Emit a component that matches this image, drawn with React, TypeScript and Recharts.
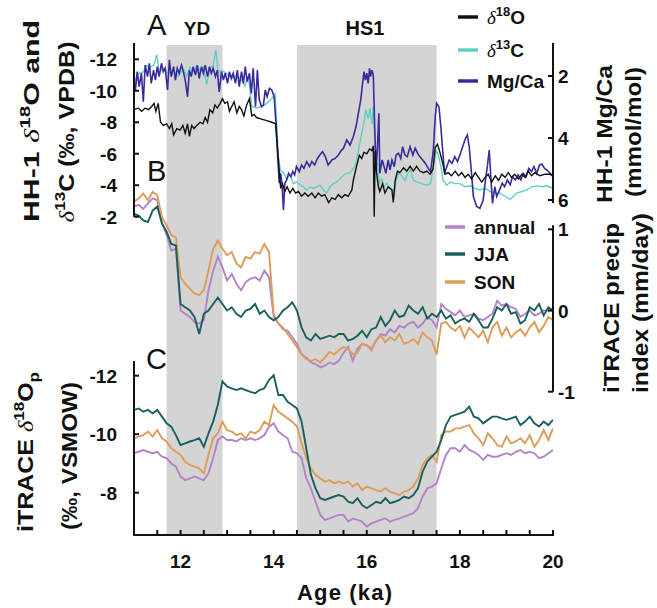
import React from "react";
import {
  ComposedChart,
  Line,
  XAxis,
  YAxis,
  ReferenceArea,
} from "recharts";

// ---------- HH-1 speleothem record (age ka, value) ----------
const D18O: [number, number][] = [
  [11.0, -8.8], [11.09, -8.9], [11.165, -8.7], [11.24, -8.9], [11.31, -8.8], [11.38, -9.0], [11.43, -9.2], [11.47, -8.7],
  [11.52, -9.2], [11.57, -8.0], [11.63, -7.8], [11.7, -7.9], [11.76, -7.6], [11.81, -7.9], [11.85, -7.2], [11.92, -7.6],
  [11.99, -7.5], [12.05, -7.8], [12.1, -7.3], [12.15, -7.9], [12.19, -7.1], [12.24, -7.8], [12.29, -7.6], [12.35, -7.8],
  [12.42, -8.0], [12.48, -7.9], [12.53, -8.3], [12.58, -8.0], [12.63, -8.8], [12.69, -8.6], [12.74, -9.1], [12.79, -8.9],
  [12.85, -9.2], [12.9, -9.5], [12.95, -9.2], [13.01, -9.3], [13.05, -8.7], [13.1, -9.0], [13.15, -9.3], [13.21, -8.6],
  [13.26, -9.0], [13.31, -8.8], [13.36, -8.4], [13.42, -9.1], [13.48, -9.5], [13.53, -8.4], [13.58, -8.5], [13.63, -8.3],
  [13.74, -8.2], [13.85, -8.1], [13.96, -8.0], [14.04, -7.9], [14.1, -5.7], [14.15, -3.8], [14.19, -4.1], [14.24, -3.6],
  [14.29, -3.9], [14.35, -3.5], [14.41, -3.8], [14.47, -3.5], [14.53, -3.6], [14.6, -3.3], [14.67, -3.5], [14.74, -3.3],
  [14.82, -3.5], [14.89, -3.2], [14.96, -3.5], [15.03, -3.3], [15.1, -3.4], [15.18, -2.9], [15.25, -3.2], [15.32, -3.1],
  [15.39, -3.4], [15.46, -3.2], [15.53, -3.4], [15.6, -3.3], [15.68, -3.7], [15.71, -4.3], [15.78, -5.2], [15.84, -5.9],
  [15.89, -5.7], [15.94, -6.1], [16.0, -6.0], [16.06, -6.3], [16.11, -6.2], [16.14, -6.5], [16.16, -2.0], [16.18, -6.2],
  [16.21, -4.8], [16.25, -3.9], [16.28, -3.6], [16.34, -4.1], [16.39, -3.5], [16.46, -3.9], [16.54, -3.7], [16.57, -2.9],
  [16.61, -4.3], [16.66, -4.9], [16.71, -4.8], [16.79, -5.1], [16.86, -4.9], [16.93, -5.2], [17.0, -4.9], [17.07, -5.2],
  [17.14, -4.9], [17.22, -4.8], [17.29, -4.9], [17.36, -4.7], [17.42, -5.0], [17.47, -6.4], [17.52, -6.6], [17.57, -6.1],
  [17.63, -5.4], [17.68, -4.7], [17.75, -4.8], [17.82, -4.6], [17.9, -4.9], [17.97, -4.6], [18.04, -4.8], [18.11, -4.5],
  [18.18, -4.7], [18.25, -4.4], [18.33, -4.8], [18.4, -4.5], [18.47, -4.2], [18.54, -4.5], [18.61, -4.7], [18.68, -4.2],
  [18.76, -4.6], [18.83, -4.3], [18.9, -4.7], [18.97, -4.5], [19.04, -4.8], [19.11, -4.5], [19.18, -4.7], [19.26, -4.4],
  [19.33, -4.7], [19.4, -4.5], [19.47, -4.9], [19.54, -4.6], [19.61, -4.8], [19.72, -4.6], [19.83, -4.7], [19.94, -4.7],
  [20.0, -4.6],
];

const D13C: [number, number][] = [
  [11.0, -10.5], [11.09, -11.1], [11.2, -11.2], [11.27, -11.6], [11.34, -11.5], [11.42, -11.6], [11.49, -12.3], [11.54, -11.2],
  [11.63, -11.4], [11.74, -11.1], [11.85, -11.3], [11.95, -10.9], [12.06, -11.4], [12.13, -10.9], [12.2, -11.5], [12.27, -11.2],
  [12.35, -11.6], [12.42, -11.3], [12.49, -11.5], [12.56, -10.4], [12.63, -11.4], [12.7, -11.6], [12.76, -12.6], [12.81, -11.1],
  [12.88, -11.3], [12.99, -11.1], [13.1, -10.8], [13.21, -11.0], [13.31, -10.7], [13.38, -10.3], [13.46, -10.9], [13.53, -9.0],
  [13.63, -8.9], [13.74, -9.0], [13.85, -9.2], [13.96, -9.5], [14.03, -9.8], [14.07, -7.7], [14.1, -5.8], [14.15, -4.9],
  [14.21, -4.8], [14.28, -4.4], [14.35, -4.7], [14.42, -4.1], [14.49, -4.2], [14.57, -4.0], [14.64, -3.9], [14.71, -3.7],
  [14.78, -3.9], [14.85, -3.8], [14.92, -3.9], [14.99, -4.0], [15.07, -3.7], [15.14, -3.5], [15.21, -3.9], [15.28, -4.1],
  [15.35, -4.2], [15.46, -4.5], [15.53, -4.7], [15.64, -4.8], [15.75, -5.2], [15.82, -6.2], [15.89, -7.3], [15.94, -8.0],
  [15.98, -8.8], [16.03, -8.2], [16.07, -8.9], [16.11, -7.9], [16.14, -9.0], [16.17, -7.0], [16.2, -4.8], [16.23, -5.4],
  [16.27, -4.1], [16.32, -4.4], [16.37, -3.9], [16.43, -4.1], [16.5, -3.8], [16.56, -3.7], [16.59, -3.3], [16.63, -4.3],
  [16.68, -4.8], [16.75, -4.6], [16.82, -4.3], [16.89, -4.8], [16.94, -5.0], [17.0, -4.3], [17.09, -4.2], [17.18, -4.1],
  [17.29, -4.0], [17.37, -4.1], [17.43, -5.2], [17.49, -6.2], [17.54, -5.9], [17.59, -5.2], [17.64, -4.3], [17.72, -4.0],
  [17.79, -4.2], [17.9, -4.1], [18.0, -4.1], [18.11, -3.9], [18.22, -3.96], [18.33, -3.8], [18.43, -3.7], [18.54, -3.8],
  [18.65, -3.6], [18.76, -3.5], [18.86, -3.5], [18.97, -3.3], [19.08, -3.1], [19.15, -3.3], [19.22, -3.5], [19.33, -3.6],
  [19.44, -3.7], [19.54, -3.9], [19.65, -3.96], [19.76, -3.9], [19.86, -3.96], [20.0, -3.8],
];

const MGCA: [number, number][] = [
  [11.0, 2.13], [11.03, 2.45], [11.07, 1.86], [11.11, 2.34], [11.16, 1.91], [11.2, 2.83], [11.24, 1.65], [11.29, 2.02],
  [11.33, 1.59], [11.37, 2.24], [11.42, 1.81], [11.46, 2.13], [11.5, 1.7], [11.54, 2.02], [11.59, 1.59], [11.63, 1.86],
  [11.67, 1.75], [11.72, 2.45], [11.76, 1.48], [11.8, 2.02], [11.85, 1.7], [11.89, 2.13], [11.93, 1.75], [11.97, 1.91],
  [12.02, 1.65], [12.06, 1.86], [12.1, 2.13], [12.15, 2.67], [12.19, 1.81], [12.23, 2.02], [12.27, 1.7], [12.32, 1.97],
  [12.36, 1.65], [12.4, 2.08], [12.45, 1.7], [12.49, 1.91], [12.53, 1.65], [12.58, 2.02], [12.62, 1.7], [12.66, 1.91],
  [12.7, 1.75], [12.75, 2.02], [12.79, 1.81], [12.83, 2.51], [12.88, 1.86], [12.92, 2.13], [12.96, 1.91], [13.01, 2.24],
  [13.05, 1.86], [13.09, 2.08], [13.13, 1.91], [13.18, 2.24], [13.22, 1.81], [13.26, 2.34], [13.31, 1.86], [13.35, 2.24],
  [13.39, 1.7], [13.43, 2.18], [13.48, 1.91], [13.52, 2.56], [13.56, 1.75], [13.61, 2.99], [13.65, 1.81], [13.69, 2.77],
  [13.74, 2.99], [13.78, 2.94], [13.82, 2.45], [13.86, 2.67], [13.91, 2.4], [13.96, 2.45], [14.01, 2.67], [14.05, 3.53],
  [14.09, 4.71], [14.12, 5.46], [14.15, 5.14], [14.18, 5.51], [14.21, 6.32], [14.24, 5.46], [14.28, 5.35], [14.32, 5.14],
  [14.37, 5.25], [14.41, 5.08], [14.45, 5.19], [14.49, 4.92], [14.55, 5.08], [14.6, 4.87], [14.65, 4.98], [14.71, 4.76],
  [14.77, 4.92], [14.82, 4.76], [14.88, 4.87], [14.94, 4.66], [14.99, 4.55], [15.05, 4.44], [15.11, 4.6], [15.17, 4.87],
  [15.25, 4.71], [15.32, 4.66], [15.39, 4.55], [15.46, 4.39], [15.5, 4.33], [15.57, 4.06], [15.64, 4.23], [15.71, 3.96],
  [15.77, 3.63], [15.82, 3.2], [15.87, 2.77], [15.91, 2.24], [15.94, 1.86], [15.97, 2.13], [16.0, 1.91], [16.03, 2.24],
  [16.06, 1.75], [16.08, 2.02], [16.11, 1.81], [16.14, 1.97], [16.17, 3.63], [16.2, 5.03], [16.23, 4.28], [16.26, 3.2],
  [16.28, 5.14], [16.33, 4.71], [16.37, 4.92], [16.41, 5.14], [16.46, 4.71], [16.5, 5.03], [16.54, 4.71], [16.59, 4.92],
  [16.63, 4.55], [16.68, 4.49], [16.73, 4.66], [16.77, 4.28], [16.82, 4.55], [16.87, 4.6], [16.93, 4.28], [16.99, 4.55],
  [17.04, 4.33], [17.09, 4.49], [17.14, 4.6], [17.2, 4.71], [17.26, 4.82], [17.32, 4.98], [17.37, 5.08], [17.43, 4.39],
  [17.47, 3.31], [17.5, 2.88], [17.55, 2.99], [17.59, 3.63], [17.63, 4.39], [17.67, 5.14], [17.72, 4.92], [17.77, 4.71],
  [17.83, 4.82], [17.89, 4.6], [17.95, 4.76], [18.0, 4.55], [18.06, 4.28], [18.12, 4.01], [18.16, 3.9], [18.2, 4.28],
  [18.25, 5.14], [18.29, 5.89], [18.36, 6.21], [18.43, 6.27], [18.5, 6.0], [18.55, 5.35], [18.59, 4.92], [18.63, 4.39],
  [18.66, 5.14], [18.7, 6.11], [18.75, 5.57], [18.79, 5.89], [18.85, 5.68], [18.91, 5.46], [18.96, 5.57], [19.02, 5.35],
  [19.08, 5.51], [19.13, 5.25], [19.19, 5.35], [19.25, 5.19], [19.31, 5.35], [19.36, 5.14], [19.42, 5.25], [19.48, 4.98],
  [19.54, 5.08], [19.59, 4.92], [19.65, 5.14], [19.71, 4.87], [19.76, 4.84], [19.82, 4.98], [19.88, 5.05], [19.94, 5.14],
  [20.0, 5.25],
];

// ---------- iTRACE model output, 0.1 ka steps ----------
const ITRACE_AGE = [
  11.0, 11.1, 11.2, 11.3, 11.4, 11.5, 11.6, 11.7, 11.8, 11.9,
  12.0, 12.1, 12.2, 12.3, 12.4, 12.5, 12.6, 12.7, 12.8, 12.9,
  13.0, 13.1, 13.2, 13.3, 13.4, 13.5, 13.6, 13.7, 13.8, 13.9,
  14.0, 14.1, 14.2, 14.3, 14.4, 14.5, 14.6, 14.7, 14.8, 14.9,
  15.0, 15.1, 15.2, 15.3, 15.4, 15.5, 15.6, 15.7, 15.8, 15.9,
  16.0, 16.1, 16.2, 16.3, 16.4, 16.5, 16.6, 16.7, 16.8, 16.9,
  17.0, 17.1, 17.2, 17.3, 17.4, 17.5, 17.6, 17.7, 17.8, 17.9,
  18.0, 18.1, 18.2, 18.3, 18.4, 18.5, 18.6, 18.7, 18.8, 18.9,
  19.0, 19.1, 19.2, 19.3, 19.4, 19.5, 19.6, 19.7, 19.8, 19.9,
  20.0,
];

// precip index (mm/day)
const PRECIP_ANNUAL = [
  1.28, 1.3, 1.25, 1.32, 1.38, 1.36, 1.09, 0.93, 0.74, 0.76,
  0.0, -0.04, -0.08, -0.14, -0.16, -0.12, 0.25, 0.49, 0.66, 0.53,
  0.37, 0.45, 0.33, 0.25, 0.35, 0.39, 0.41, 0.37, 0.49, 0.41,
  -0.08, -0.16, -0.23, -0.25, -0.33, -0.41, -0.54, -0.58, -0.64, -0.66,
  -0.7, -0.68, -0.64, -0.66, -0.62, -0.52, -0.45, -0.62, -0.47, -0.41,
  -0.43, -0.47, -0.37, -0.29, -0.31, -0.23, -0.27, -0.19, -0.21, -0.16,
  -0.14, -0.21, -0.16, -0.08, -0.12, -0.21, 0.08, 0.02, -0.02, -0.06,
  0.0, -0.08, -0.06, -0.04, -0.1, -0.12, -0.08, -0.04, 0.12, 0.06,
  0.08, 0.04, 0.02, -0.08, -0.04, 0.0, -0.06, -0.04, 0.0, 0.0,
  0.0,
];
const PRECIP_JJA = [
  1.19, 1.17, 1.11, 1.09, 1.23, 1.28, 1.07, 0.97, 0.82, 0.8,
  0.08, 0.04, 0.0, -0.08, -0.29, -0.04, 0.0, 0.08, 0.16, 0.08,
  0.0, 0.04, -0.04, -0.08, 0.0, 0.02, 0.08, -0.04, 0.0, -0.08,
  -0.12, -0.08, 0.0, 0.04, 0.1, 0.0, -0.21, -0.33, -0.37, -0.29,
  -0.35, -0.33, -0.31, -0.33, -0.29, -0.29, -0.37, -0.35, -0.31, -0.25,
  -0.33, -0.23, -0.21, -0.08, -0.19, -0.12, 0.0, -0.08, -0.06, 0.06,
  0.0, -0.04, 0.04, -0.1, -0.04, -0.08, 0.0, -0.1, -0.06, -0.16,
  -0.12, -0.1, -0.14, -0.04, -0.12, -0.21, -0.21, -0.1, 0.04, 0.0,
  0.08, -0.04, -0.02, -0.16, -0.12, 0.04, 0.0, 0.08, -0.06, 0.04,
  0.0,
];
const PRECIP_SON = [
  1.34, 1.38, 1.44, 1.36, 1.46, 1.42, 1.15, 1.05, 0.93, 0.9,
  0.41, 0.33, 0.27, 0.21, 0.19, 0.25, 0.49, 0.76, 0.86, 0.76,
  0.68, 0.72, 0.58, 0.53, 0.66, 0.64, 0.72, 0.7, 0.82, 0.72,
  -0.04, -0.16, -0.21, -0.29, -0.37, -0.45, -0.54, -0.6, -0.62, -0.6,
  -0.64, -0.58, -0.51, -0.54, -0.49, -0.45, -0.47, -0.54, -0.52, -0.41,
  -0.43, -0.49, -0.37, -0.31, -0.39, -0.33, -0.37, -0.29, -0.41, -0.39,
  -0.35, -0.41, -0.27, -0.33, -0.37, -0.54, -0.16, -0.14, -0.21, -0.25,
  -0.19, -0.33, -0.21, -0.27, -0.33, -0.25, -0.39, -0.21, -0.14, -0.31,
  -0.21, -0.33, -0.27, -0.23, -0.31, -0.21, -0.14, -0.27, -0.19, -0.08,
  -0.12,
];

// d18O of precipitation (permil VSMOW)
const D18OP_ANNUAL = [
  -9.35, -9.4, -9.46, -9.4, -9.35, -9.4, -9.23, -9.18, -9.0, -8.89,
  -8.55, -8.43, -8.49, -8.55, -8.49, -8.43, -8.66, -9.18, -9.8, -9.92,
  -9.8, -9.8, -9.75, -9.86, -9.8, -9.86, -9.8, -9.86, -9.97, -10.26,
  -10.37, -10.09, -9.97, -9.86, -9.4, -9.35, -9.18, -8.49, -8.15, -7.69,
  -7.24, -7.07, -7.12, -7.18, -7.24, -7.24, -7.01, -7.12, -7.07, -7.01,
  -6.84, -6.95, -7.01, -7.07, -7.12, -7.01, -7.07, -7.12, -7.18, -7.24,
  -7.3, -7.47, -7.87, -8.15, -8.21, -8.32, -8.83, -9.29, -9.52, -9.52,
  -9.4, -9.63, -9.46, -9.4, -9.29, -9.12, -9.29, -9.23, -9.23, -9.29,
  -9.35, -9.29, -9.4, -9.46, -9.35, -9.4, -9.35, -9.18, -9.23, -9.35,
  -9.46,
];
const D18OP_JJA = [
  -10.83, -10.88, -10.77, -10.83, -10.71, -10.83, -10.6, -10.37, -10.26, -9.97,
  -9.63, -9.69, -9.75, -9.8, -9.86, -9.57, -10.03, -10.43, -11.0, -11.8,
  -11.63, -11.57, -11.51, -11.57, -11.51, -11.45, -11.4, -11.51, -11.57, -11.85,
  -12.02, -11.34, -11.34, -11.11, -11.0, -10.88, -10.43, -9.52, -8.61, -8.15,
  -7.81, -7.75, -7.81, -7.87, -7.92, -7.87, -7.69, -7.64, -7.81, -7.58,
  -7.47, -7.58, -7.69, -7.64, -7.81, -7.64, -7.69, -7.75, -7.87, -7.81,
  -7.92, -8.15, -8.72, -9.06, -9.23, -9.4, -9.8, -10.31, -10.6, -10.66,
  -10.71, -10.77, -10.94, -10.6, -10.54, -10.37, -10.49, -10.6, -10.6, -10.54,
  -10.49, -10.54, -10.6, -10.31, -10.43, -10.6, -10.37, -10.26, -10.43, -10.31,
  -10.49,
];
const D18OP_SON = [
  -9.86, -9.92, -9.97, -10.09, -9.92, -10.14, -9.86, -9.75, -9.52, -9.4,
  -9.29, -9.06, -8.95, -8.89, -8.83, -8.66, -9.29, -9.86, -10.03, -10.43,
  -10.14, -10.09, -9.97, -10.03, -9.86, -10.09, -10.03, -10.14, -10.43, -10.31,
  -11.0, -10.77, -10.66, -10.54, -10.43, -10.26, -9.69, -9.18, -8.83, -8.61,
  -8.49, -8.38, -8.43, -8.32, -8.38, -8.32, -8.38, -8.21, -8.32, -8.09,
  -8.21, -8.15, -8.09, -8.04, -8.15, -8.04, -7.98, -7.92, -8.04, -8.09,
  -8.21, -8.49, -8.95, -9.18, -9.29, -9.06, -9.97, -10.09, -10.09, -10.2,
  -10.2, -10.26, -10.31, -10.03, -9.86, -9.63, -10.03, -9.86, -9.63, -9.57,
  -9.92, -9.69, -9.75, -9.86, -9.69, -9.97, -9.57, -9.8, -10.14, -9.8,
  -10.2,
];

// ---------- ticks & events ----------
const X_TICKS = [11, 11.5, 12, 12.5, 13, 13.5, 14, 14.5, 15, 15.5, 16, 16.5, 17, 17.5, 18, 18.5, 19, 19.5, 20];
const X_LABELS = [12, 14, 16, 18, 20];
const A_TICKS = [-12, -10, -8, -6, -4, -2];
const MG_TICKS = [2, 4, 6];
const B_TICKS = [1, 0, -1];
const C_TICKS = [-12, -10, -8];
const YD = [11.7, 12.9];
const HS1 = [14.5, 17.5];

// ---------- layout ----------
const W = 657;
const H = 608;
const PLOT_TOP = 43;
const PLOT_BOTTOM = 535;
const PLOT_LEFT = 134;
const PLOT_RIGHT = 553;
const FONT = "'Liberation Sans', Arial, Helvetica, sans-serif";
const SERIF = "'Liberation Serif', 'DejaVu Serif', serif";
const AXIS = "#111111";
const C_D18O = "#111111";
const C_D13C = "#5fd0c6";
const C_MG = "#3a2b9c";
const C_ANN = "#b383c9";
const C_JJA = "#17605b";
const C_SON = "#dd9c58";

// all panels share one plot box; each axis gets the domain that puts its
// tick values on the rows they sit on in the figure
function domainFrom(v1: number, p1: number, v2: number, p2: number): [number, number] {
  const k = (v2 - v1) / (p2 - p1);
  const top = v1 + (PLOT_TOP - p1) * k;
  const bot = v1 + (PLOT_BOTTOM - p1) * k;
  return [Math.min(top, bot), Math.max(top, bot)];
}
const DOM_A = domainFrom(-12, 59.3, -2, 216.7);
const DOM_MG = domainFrom(2, 76, 6, 200);
const DOM_B = domainFrom(1, 229.3, -1, 391.7);
const DOM_C = domainFrom(-12, 375.7, -8, 492.7);
const SHADE_TOP = -12.91;

// pixel row of a value on one of the axes (used only for the axis spines)
const rowOf = (dom: [number, number], v: number, reversed: boolean) => {
  const t = (v - dom[0]) / (dom[1] - dom[0]);
  return reversed
    ? PLOT_TOP + t * (PLOT_BOTTOM - PLOT_TOP)
    : PLOT_BOTTOM - t * (PLOT_BOTTOM - PLOT_TOP);
};

const pairs = (arr: [number, number][]) => arr.map(([age, v]) => ({ age, v }));
const series = (vals: number[]) => ITRACE_AGE.map((age, i) => ({ age, v: vals[i] }));

const d18o = pairs(D18O);
const d13c = pairs(D13C);
const mgca = pairs(MGCA);
const pAnn = series(PRECIP_ANNUAL);
const pJja = series(PRECIP_JJA);
const pSon = series(PRECIP_SON);
const oAnn = series(D18OP_ANNUAL);
const oJja = series(D18OP_JJA);
const oSon = series(D18OP_SON);

const LeftTick = (props: any) => {
  const { y, payload } = props;
  const x = PLOT_LEFT;
  return (
    <g>
      <line x1={x} x2={x + 5} y1={y} y2={y} stroke={AXIS} strokeWidth={2} />
      <text x={x - 17} y={y + 7} textAnchor="end" fontSize={19} fontWeight={700} fill="#111" fontFamily={FONT}>
        {payload.value}
      </text>
    </g>
  );
};

const RightTick = (props: any) => {
  const { y, payload } = props;
  const x = PLOT_RIGHT;
  return (
    <g>
      <line x1={x - 5} x2={x} y1={y} y2={y} stroke={AXIS} strokeWidth={2} />
      <text x={x + 5} y={y + 7} textAnchor="start" fontSize={19} fontWeight={700} fill="#111" fontFamily={FONT}>
        {payload.value}
      </text>
    </g>
  );
};

const BottomTick = (props: any) => {
  const { x, payload } = props;
  const y = PLOT_BOTTOM;
  return (
    <g>
      <line x1={x} x2={x} y1={y} y2={y - 5} stroke={AXIS} strokeWidth={2} />
      {X_LABELS.includes(payload.value) && (
        <text x={x} y={y + 33} textAnchor="middle" fontSize={19} fontWeight={700} fill="#111" fontFamily={FONT}>
          {payload.value}
        </text>
      )}
    </g>
  );
};

const VText = ({ x, cy, len, children }: any) => (
  <text
    x={x}
    y={cy}
    transform={`rotate(-90 ${x} ${cy})`}
    textAnchor="middle"
    fontSize={22}
    fontWeight={700}
    fill="#111"
    textLength={len}
    lengthAdjust="spacingAndGlyphs"
  >
    {children}
  </text>
);

const Delta = () => (
  <tspan fontFamily={SERIF} fontStyle="italic" fontWeight={400}>
    δ
  </tspan>
);

const LegendRow = ({ x, y, color, children }: any) => (
  <g>
    <line x1={x} x2={x + 20} y1={y} y2={y} stroke={color} strokeWidth={3.5} />
    <text x={x + 29} y={y + 7} fontSize={19} fontWeight={700} fill="#111">
      {children}
    </text>
  </g>
);

const line = (data: any[], yAxisId: string, color: string, width: number, key: string) => (
  <Line
    key={key}
    data={data}
    dataKey="v"
    xAxisId={0}
    yAxisId={yAxisId}
    type="linear"
    stroke={color}
    strokeWidth={width}
    dot={false}
    activeDot={false}
    isAnimationActive={false}
  />
);

export default function App() {
  const aEnd = rowOf(DOM_A, -2, true);
  const cStart = rowOf(DOM_C, -12.5, true);
  const mgEnd = rowOf(DOM_MG, 6.1, true);
  const bStart = rowOf(DOM_B, 1.05, false);
  const bEnd = rowOf(DOM_B, -1, false);
  return (
    <div style={{ position: "absolute", left: 0, top: 0, width: W, height: H, background: "#fff" }}>
      <ComposedChart
        width={W}
        height={H}
        margin={{ top: PLOT_TOP, right: W - PLOT_RIGHT - 2, bottom: H - PLOT_BOTTOM - 30, left: PLOT_LEFT - 2 }}
      >
        <XAxis
          xAxisId={0}
          type="number"
          dataKey="age"
          domain={[11, 20]}
          allowDataOverflow
          ticks={X_TICKS}
          interval={0}
          height={30}
          tickSize={0}
          tickMargin={0}
          tickLine={false}
          tick={BottomTick}
          axisLine={false}
        />
        <YAxis yAxisId="a" orientation="left" type="number" width={1} domain={DOM_A} reversed allowDataOverflow
          ticks={A_TICKS} interval={0} tickSize={0} tickMargin={0} tickLine={false} axisLine={false} tick={LeftTick} />
        <YAxis yAxisId="c" orientation="left" type="number" width={1} domain={DOM_C} reversed allowDataOverflow
          ticks={C_TICKS} interval={0} tickSize={0} tickMargin={0} tickLine={false} axisLine={false} tick={LeftTick} />
        <YAxis yAxisId="mg" orientation="right" type="number" width={1} domain={DOM_MG} reversed allowDataOverflow
          ticks={MG_TICKS} interval={0} tickSize={0} tickMargin={0} tickLine={false} axisLine={false} tick={RightTick} />
        <YAxis yAxisId="b" orientation="right" type="number" width={1} domain={DOM_B} allowDataOverflow
          ticks={B_TICKS} interval={0} tickSize={0} tickMargin={0} tickLine={false} axisLine={false} tick={RightTick} />

        <ReferenceArea xAxisId={0} yAxisId="a" x1={YD[0]} x2={YD[1]} y1={SHADE_TOP} y2={DOM_A[1]}
          fill="#d4d4d4" fillOpacity={1} stroke="none" ifOverflow="visible" />
        <ReferenceArea xAxisId={0} yAxisId="a" x1={HS1[0]} x2={HS1[1]} y1={SHADE_TOP} y2={DOM_A[1]}
          fill="#d4d4d4" fillOpacity={1} stroke="none" ifOverflow="visible" />

        {line(pAnn, "b", C_ANN, 1.9, "pAnn")}
        {line(pSon, "b", C_SON, 1.9, "pSon")}
        {line(pJja, "b", C_JJA, 1.9, "pJja")}
        {line(oAnn, "c", C_ANN, 1.9, "oAnn")}
        {line(oSon, "c", C_SON, 1.9, "oSon")}
        {line(oJja, "c", C_JJA, 1.9, "oJja")}
        {line(d13c, "a", C_D13C, 1.4, "d13c")}
        {line(mgca, "mg", C_MG, 1.6, "mgca")}
        {line(d18o, "a", C_D18O, 1.4, "d18o")}
      </ComposedChart>

      <svg width={W} height={H} style={{ position: "absolute", left: 0, top: 0, pointerEvents: "none" }} fontFamily={FONT}>
        {/* axis spines: each panel's axis only covers its own range */}
        <g fill={AXIS}>
          <rect x={PLOT_LEFT - 1} y={PLOT_TOP} width={2} height={aEnd - PLOT_TOP} />
          <rect x={PLOT_LEFT - 1} y={cStart} width={2} height={PLOT_BOTTOM - cStart} />
          <rect x={PLOT_LEFT - 1} y={PLOT_BOTTOM - 1} width={PLOT_RIGHT - PLOT_LEFT + 2} height={2} />
          <rect x={PLOT_RIGHT - 1} y={PLOT_TOP} width={2} height={mgEnd - PLOT_TOP} />
          <rect x={PLOT_RIGHT - 1} y={bStart} width={2} height={bEnd - bStart} />
        </g>

        {/* panel letters and event names */}
        <text x={147} y={35} fontSize={29} fill="#111">A</text>
        <text x={147} y={181} fontSize={29} fill="#111">B</text>
        <text x={146} y={369} fontSize={29} fill="#111">C</text>
        <text x={197} y={35} textAnchor="middle" fontSize={19} fontWeight={700} fill="#111">YD</text>
        <text x={365} y={35} textAnchor="middle" fontSize={20} fontWeight={700} fill="#111">HS1</text>

        {/* left titles */}
        <VText x={39} cy={121} len={202}>
          HH-1 <Delta />
          <tspan dy={-9} fontSize={15}>18</tspan>
          <tspan dy={9}>O and</tspan>
        </VText>
        <VText x={74} cy={132} len={181}>
          <Delta />
          <tspan dy={-9} fontSize={15}>13</tspan>
          <tspan dy={9}>C (‰, VPDB)</tspan>
        </VText>
        <VText x={33} cy={452} len={160}>
          iTRACE <Delta />
          <tspan dy={-9} fontSize={15}>18</tspan>
          <tspan dy={9}>O</tspan>
          <tspan dy={6} fontSize={15}>p</tspan>
        </VText>
        <VText x={77} cy={456} len={148}>(‰, VSMOW)</VText>

        {/* right titles */}
        <VText x={612} cy={134} len={138}>HH-1 Mg/Ca</VText>
        <VText x={641} cy={132} len={130}>(mmol/mol)</VText>
        <VText x={619} cy={308} len={170}>iTRACE precip</VText>
        <VText x={648} cy={303} len={180}>index (mm/day)</VText>

        {/* x title */}
        <text x={344.5} y={600} textAnchor="middle" fontSize={22} fontWeight={700} fill="#111" textLength={95}>
          Age (ka)
        </text>

        {/* legend A */}
        <LegendRow x={458} y={17} color={C_D18O}>
          <Delta />
          <tspan dy={-8} fontSize={13}>18</tspan>
          <tspan dy={8}>O</tspan>
        </LegendRow>
        <LegendRow x={458} y={50} color={C_D13C}>
          <Delta />
          <tspan dy={-8} fontSize={13}>13</tspan>
          <tspan dy={8}>C</tspan>
        </LegendRow>
        <LegendRow x={458} y={81} color={C_MG}>Mg/Ca</LegendRow>

        {/* legend B */}
        <LegendRow x={445} y={227} color={C_ANN}>annual</LegendRow>
        <LegendRow x={445} y={254} color={C_JJA}>JJA</LegendRow>
        <LegendRow x={445} y={282} color={C_SON}>SON</LegendRow>
      </svg>
    </div>
  );
}
